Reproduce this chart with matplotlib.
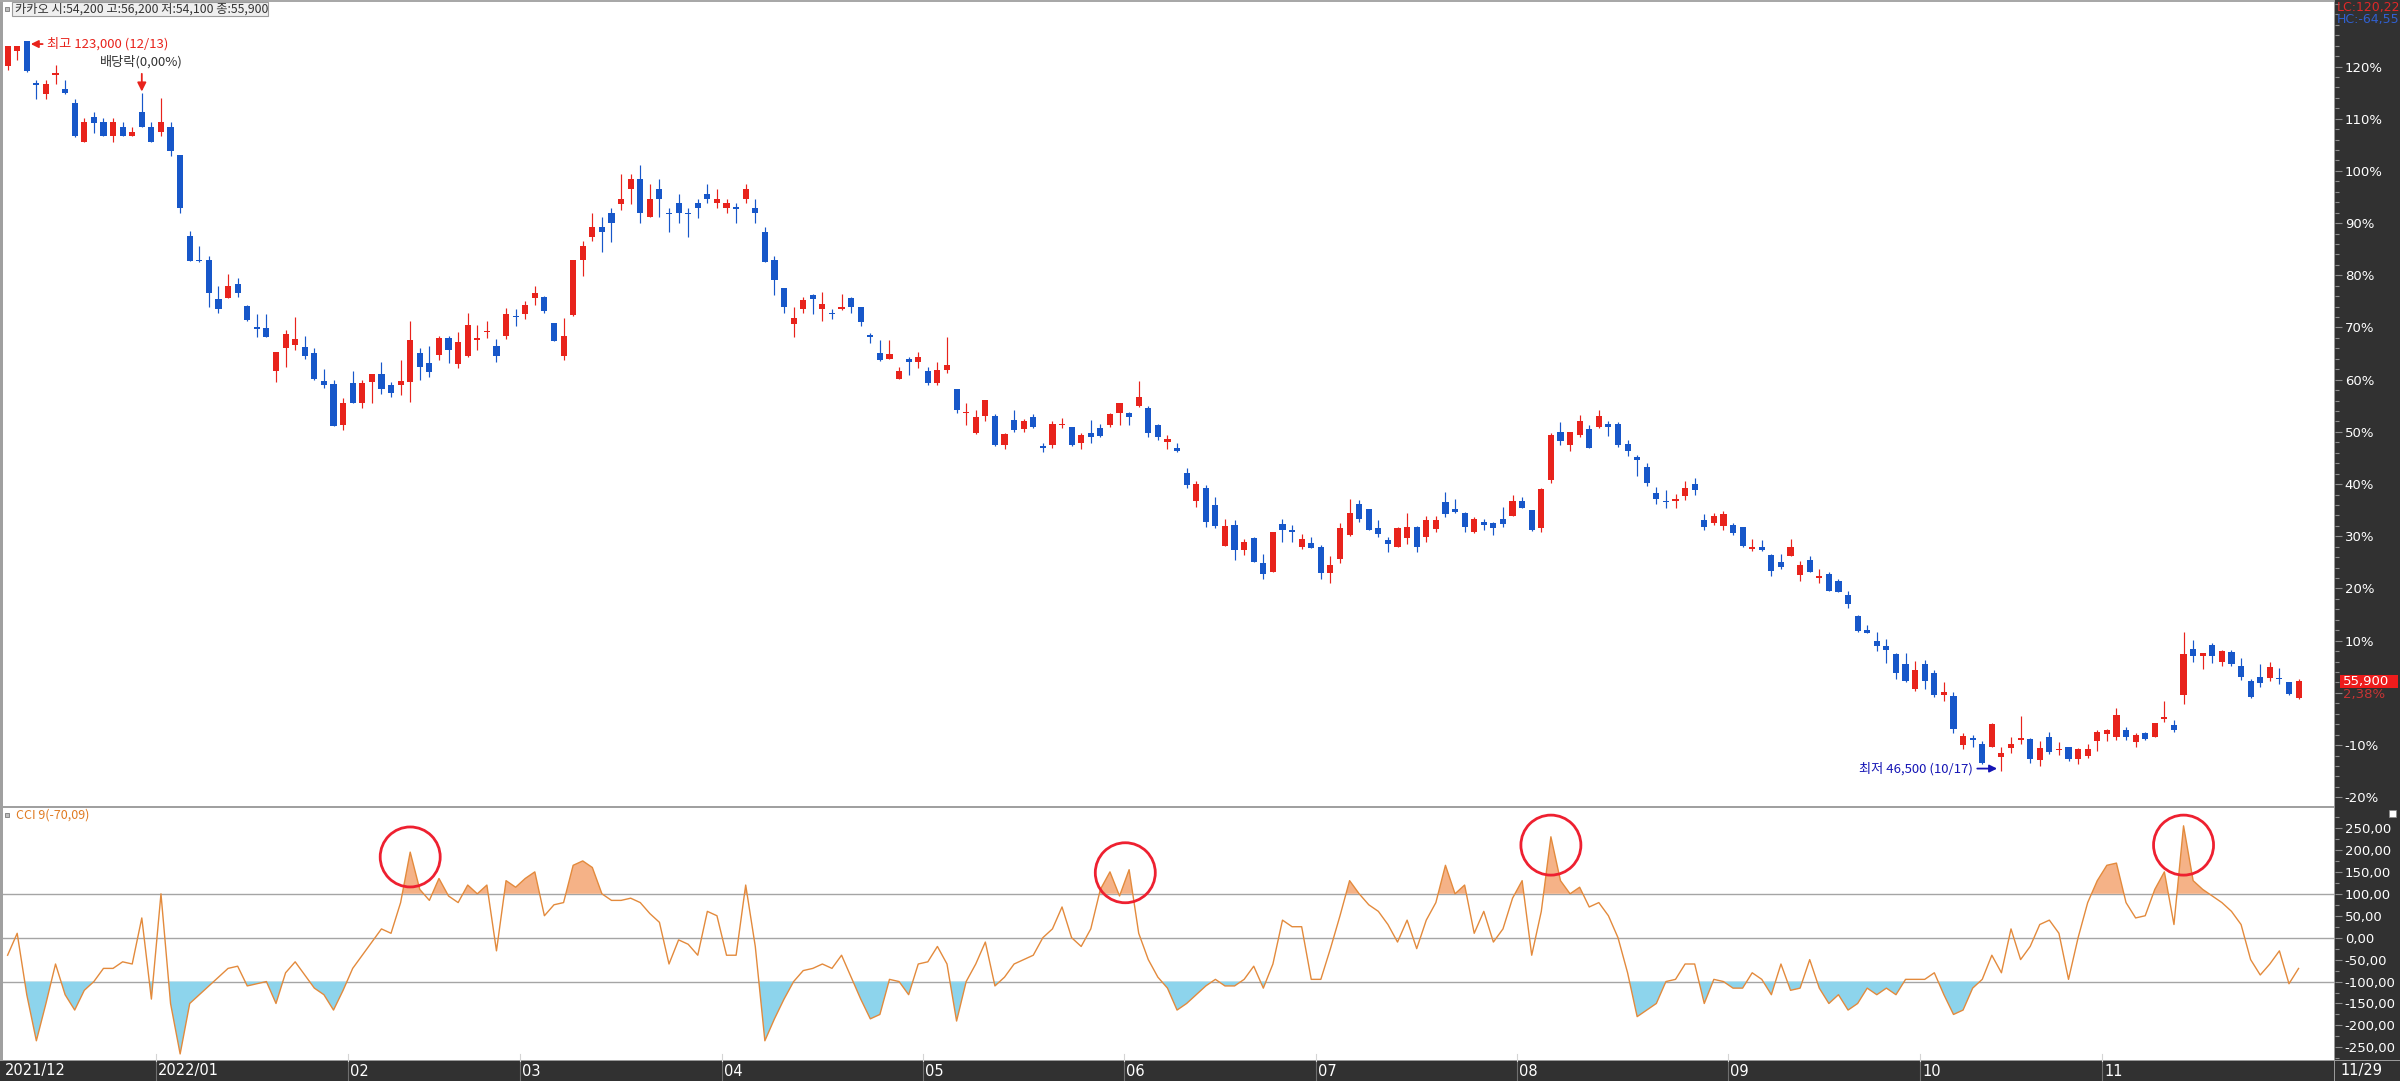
import numpy as np
import matplotlib
matplotlib.use("Agg")
import matplotlib.pyplot as plt
from matplotlib.patches import Rectangle, Ellipse
from matplotlib.ticker import MultipleLocator, FixedLocator
from matplotlib import transforms

# ---------------- data (price in % vs. base 54,700 won, as on the right axis) -------------
opens = [120.1,123.0,124.9,116.8,114.7,118.5,115.7,113.1,105.6,110.3,
 109.3,106.6,108.4,106.6,111.3,108.4,107.4,108.4,103.1,87.6,
 82.9,82.9,75.4,75.6,78.4,74.2,69.9,69.9,61.6,66.1,
 66.6,66.2,65.2,59.7,59.2,51.4,59.4,55.5,59.5,61.0,
 59.0,58.9,59.5,65.2,63.2,64.8,68.0,63.1,64.6,67.7,
 69.1,66.5,68.3,72.2,72.5,75.6,75.8,70.8,64.5,72.4,
 82.9,87.4,89.2,92.0,93.7,96.5,98.4,91.1,96.5,91.9,
 93.8,91.9,93.8,95.6,93.8,92.8,92.9,94.7,92.8,88.2,
 82.9,77.5,70.7,73.6,76.2,73.6,72.7,73.6,75.6,73.9,
 68.6,65.2,64.0,60.1,64.0,63.3,61.7,59.4,61.9,58.2,
 53.6,49.7,53.0,53.0,47.5,52.3,50.5,52.9,47.2,47.5,
 51.3,50.9,47.9,49.7,50.7,51.4,53.7,53.6,55.0,54.5,
 51.3,48.1,47.0,42.2,36.8,39.2,36.0,28.2,32.1,27.3,
 29.7,24.8,23.2,32.3,31.1,28.0,28.7,27.9,23.0,25.6,
 30.3,36.2,35.2,31.5,29.2,28.0,29.7,31.7,29.9,31.4,
 36.6,35.2,34.5,30.9,32.8,32.6,33.4,33.8,36.8,35.0,
 31.5,40.7,49.9,47.4,49.4,50.5,51.0,51.6,51.6,47.6,
 45.2,43.2,38.2,36.7,36.9,37.7,40.1,33.1,32.5,32.0,
 32.2,31.8,27.7,27.9,26.4,25.1,26.2,22.5,25.5,22.1,
 22.8,21.4,18.8,14.8,12.1,9.9,8.9,7.5,5.5,0.7,
 5.5,3.8,-0.4,-0.6,-10.0,-8.8,-9.7,-10.3,-12.2,-10.6,
 -8.9,-8.9,-12.9,-8.5,-10.9,-10.4,-12.7,-12.0,-9.3,-7.9,
 -8.4,-7.1,-9.5,-7.7,-8.4,-4.9,-6.1,-0.4,8.4,7.1,
 9.2,6.0,7.8,5.2,2.3,3.0,2.8,2.8,2.1,-0.9]

highs = [124.0,124.0,124.9,117.5,117.5,120.3,117.5,113.8,110.2,111.2,
 110.2,110.2,109.3,108.4,115.0,109.3,114.0,109.3,103.1,88.4,
 85.6,83.7,77.9,80.3,79.5,74.3,72.6,72.6,65.4,69.6,
 72.1,68.4,66.1,62.0,60.0,56.5,61.6,59.9,61.0,63.3,
 59.5,63.7,71.3,66.1,66.5,68.4,68.4,69.1,72.7,70.5,
 71.3,67.8,73.7,73.5,75.1,77.9,76.1,70.9,71.8,82.9,
 86.6,92.0,91.2,92.8,99.4,99.4,101.1,97.5,98.4,92.8,
 95.6,92.8,94.7,97.5,96.5,94.7,93.8,97.5,94.7,89.2,
 83.7,77.5,73.9,75.8,76.4,76.8,73.5,76.4,75.9,74.0,
 69.0,67.6,67.6,62.5,64.3,65.4,62.5,63.3,68.1,58.3,
 55.5,54.2,56.1,53.5,49.8,54.2,52.4,53.5,47.9,52.1,
 52.6,51.0,49.8,52.3,51.6,53.6,55.6,53.9,59.8,55.0,
 51.5,49.4,47.9,43.0,40.5,39.8,37.5,33.4,33.2,29.4,
 29.9,26.7,30.8,33.3,32.1,30.4,29.9,28.3,26.2,32.5,
 37.1,36.9,35.2,33.1,29.8,31.8,34.4,32.0,33.9,33.9,
 38.4,37.1,34.7,33.6,33.4,32.8,35.7,37.9,37.6,35.0,
 39.2,49.7,51.8,50.0,53.2,51.4,54.2,52.1,51.9,48.4,
 45.6,44.0,39.5,38.8,38.1,40.5,41.1,34.3,34.5,34.9,
 32.6,31.8,29.5,29.2,26.6,26.6,29.4,25.3,26.2,23.7,
 23.1,21.8,19.5,14.9,13.0,11.6,10.3,7.6,7.7,6.1,
 6.3,4.3,2.0,0.2,-7.7,-8.1,-9.3,-5.8,-10.3,-8.4,
 -4.4,-8.7,-9.3,-7.4,-9.5,-10.3,-10.6,-9.7,-7.2,-7.0,
 -2.9,-6.5,-7.7,-7.4,-5.7,-1.5,-5.2,11.6,10.1,7.7,
 9.6,8.2,8.2,6.6,2.6,5.5,6.0,4.7,2.1,2.7]

lows = [119.3,121.2,119.0,113.8,113.8,116.7,114.8,106.4,105.6,107.3,
 106.6,105.6,106.6,106.6,108.4,105.6,106.6,102.9,91.9,82.8,
 82.6,74.0,72.7,75.6,75.8,71.2,68.2,68.2,59.6,62.4,
 65.6,63.9,60.0,58.4,51.1,50.3,55.5,54.6,55.5,57.3,
 56.6,57.1,55.8,59.9,60.6,63.8,63.2,62.2,64.3,65.6,
 68.0,63.3,67.8,70.3,71.6,74.3,72.8,67.5,63.8,72.2,
 79.8,86.5,84.5,86.4,92.6,93.7,90.1,91.1,91.1,88.2,
 90.1,87.4,90.9,93.8,92.8,91.9,90.1,93.8,90.1,82.6,
 76.2,72.8,68.2,72.7,72.6,71.3,71.7,73.3,72.7,70.2,
 67.1,63.6,63.9,60.1,60.9,62.2,59.0,59.0,61.3,53.6,
 51.3,49.6,52.1,47.3,46.7,50.0,50.0,50.7,46.2,47.0,
 50.7,47.3,46.8,47.9,49.0,51.0,51.3,51.3,54.8,49.1,
 48.4,46.7,46.2,39.2,35.6,31.7,31.5,28.2,25.5,26.4,
 25.1,21.9,23.2,29.0,29.0,27.5,27.7,21.8,21.0,24.8,
 30.1,32.8,31.3,29.9,26.9,28.0,28.6,26.9,29.0,30.9,
 33.6,34.4,30.9,30.6,31.2,30.2,31.7,33.8,35.4,31.0,
 30.8,40.3,47.5,46.4,49.1,46.9,50.7,49.2,47.2,45.4,
 41.6,39.6,36.2,35.4,35.4,36.9,37.9,31.2,32.2,31.2,
 30.2,27.9,27.1,27.1,22.4,23.7,26.2,21.4,23.2,21.1,
 19.6,19.4,16.2,11.7,11.4,8.1,5.7,2.6,2.0,0.4,
 0.7,-0.7,-1.5,-7.7,-10.8,-10.3,-13.6,-10.3,-15.0,-11.6,
 -9.7,-13.5,-14.0,-11.7,-11.9,-13.0,-13.7,-12.5,-11.1,-9.3,
 -9.0,-9.0,-10.4,-9.1,-8.5,-5.5,-7.4,-2.1,6.0,4.5,
 5.7,5.2,5.2,2.5,-1.0,1.2,2.3,1.7,-0.4,-1.1]

closes = [123.9,123.9,119.2,116.6,116.7,118.6,114.9,106.6,109.3,109.2,
 106.6,109.3,106.6,107.4,108.4,105.6,109.3,103.8,92.9,82.8,
 82.8,76.6,73.6,77.9,76.7,71.5,69.8,68.2,65.4,68.8,
 67.8,64.6,60.1,59.0,51.1,55.5,55.5,59.4,61.0,58.2,
 57.4,59.7,67.7,62.4,61.4,68.0,65.6,67.3,70.5,67.9,
 69.4,64.5,72.6,72.0,74.3,76.6,73.1,67.5,68.4,82.9,
 85.6,89.2,88.2,90.1,94.7,98.4,91.9,94.7,94.7,91.8,
 91.9,91.8,92.8,94.7,94.7,93.8,92.8,96.5,91.9,82.6,
 79.1,73.9,71.9,75.3,75.5,74.5,72.6,74.0,73.9,71.1,
 68.1,63.8,64.9,61.7,63.3,64.3,59.4,61.9,62.8,54.1,
 53.8,52.9,56.1,47.5,49.6,50.4,52.0,51.0,47.1,51.6,
 51.5,47.4,49.4,49.0,49.3,53.4,55.5,52.9,56.6,49.7,
 49.0,48.7,46.4,39.8,40.0,32.8,32.0,32.0,27.3,28.9,
 25.1,22.7,30.8,31.2,31.0,29.5,27.7,23.0,24.5,31.5,
 34.4,33.4,31.3,30.4,28.5,31.5,31.7,28.0,33.1,33.1,
 34.2,34.7,31.7,33.4,32.2,31.5,32.3,36.8,35.4,31.3,
 39.0,49.4,48.3,49.9,52.1,46.9,53.0,50.9,47.5,46.4,
 44.7,40.2,37.1,36.6,37.0,39.2,38.9,31.8,33.9,34.3,
 30.6,28.1,27.9,27.4,23.4,24.2,27.9,24.5,23.2,22.4,
 19.6,19.4,17.0,11.9,11.5,9.0,8.2,3.9,2.2,4.4,
 2.3,-0.4,0.2,-7.0,-8.3,-8.9,-13.5,-5.9,-11.6,-9.7,
 -8.8,-12.7,-10.6,-11.4,-10.8,-12.7,-10.8,-10.8,-7.4,-7.2,
 -4.2,-8.4,-8.1,-8.9,-5.8,-4.7,-7.2,7.5,7.0,7.6,
 7.1,8.1,5.5,3.0,-0.7,1.8,4.9,2.7,-0.3,2.2]

cci_values = [-40,10,-130,-235,-150,-60,-130,-165,-120,-100,
 -70,-70,-55,-60,45,-140,100,-150,-265,-150,
 -130,-110,-90,-70,-65,-110,-105,-100,-150,-80,
 -55,-85,-115,-130,-165,-120,-70,-40,-10,20,
 10,80,195,110,85,135,95,80,120,100,
 120,-30,130,115,135,150,50,75,80,165,
 175,160,100,85,85,90,80,55,35,-60,
 -5,-15,-40,60,50,-40,-40,120,-20,-235,
 -185,-140,-100,-75,-70,-60,-70,-40,-90,-140,
 -185,-175,-95,-100,-130,-60,-55,-20,-60,-190,
 -100,-60,-10,-110,-90,-60,-50,-40,0,20,
 70,0,-20,20,110,150,95,155,10,-50,
 -90,-115,-165,-150,-130,-110,-95,-110,-110,-95,
 -65,-115,-60,40,25,25,-95,-95,-25,50,
 130,100,75,60,30,-10,40,-25,40,80,
 165,100,120,10,60,-10,20,90,130,-40,
 60,230,130,100,115,70,80,50,0,-80,
 -180,-165,-150,-100,-95,-60,-60,-150,-95,-100,
 -115,-115,-80,-95,-130,-60,-120,-115,-50,-115,
 -150,-130,-165,-150,-115,-130,-115,-130,-95,-95,
 -95,-80,-130,-175,-165,-115,-95,-40,-80,20,
 -50,-20,30,40,10,-95,0,80,130,165,
 170,80,45,50,110,150,30,255,130,110,
 95,80,60,30,-50,-85,-60,-30,-105,-70.09]

month_labels = ["2021/12", "2022/01", "02", "03", "04", "05", "06",
                "07", "08", "09", "10", "11"]
month_first_bar = [0, 16, 36, 54, 75, 96, 117, 137, 158, 180, 200, 219]
end_date_label = "11/29"

header_text = "카카오 시:54,200 고:56,200 저:54,100 종:55,900"
high_note = "최고 123,000 (12/13)"
high_bar = 2
div_note = "배당락(0,00%)"
div_bar = 14
low_note = "최저 46,500 (10/17)"
low_bar = 208
cci_title = "CCI 9(-70,09)"
last_price_text = "55,900"
last_change_text = "2,38%"
lc_text = "LC:120,22"
hc_text = "HC:-64,55"
circled_bars = [42, 116.6, 161, 227]
circled_levels = [184, 148, 211, 211]

# ---------------- styling -------------
W, H, DPI = 2400, 1081, 100
RED = "#E8231C"
BLUE = "#1757C9"
DARK = "#313131"
GRID = "#a5a5a5"
NARROW = ["Liberation Sans Narrow", "DejaVu Sans"]
KR = ["Noto Sans CJK KR", "DejaVu Sans"]
plt.rcParams["font.family"] = NARROW

fig = plt.figure(figsize=(W / DPI, H / DPI), dpi=DPI, facecolor="white")


def box(x0, y0, x1, y1):
    return [x0 / W, 1 - y1 / H, (x1 - x0) / W, (y1 - y0) / H]


ax = fig.add_axes(box(3, 0, 2335, 806))
axc = fig.add_axes(box(3, 808, 2335, 1061), sharex=ax)

# dark axis strips
fig.add_artist(Rectangle((2335 / W, 0), 65 / W, 1, transform=fig.transFigure,
                         fc=DARK, ec="none", zorder=-5))
fig.add_artist(Rectangle((0, 0), 1, 20 / H, transform=fig.transFigure,
                         fc=DARK, ec="none", zorder=-5))
# borders
fig.add_artist(Rectangle((0, 20 / H), 2.5 / W, 1 - 20 / H, transform=fig.transFigure,
                         fc="#a0a0a0", ec="none", zorder=6))
fig.add_artist(Rectangle((0, 1 - 1.5 / H), 2335 / W, 1.5 / H, transform=fig.transFigure,
                         fc="#a8a8a8", ec="none", zorder=6))
fig.add_artist(Rectangle((0, 1 - 807.5 / H), 2335 / W, 1.6 / H, transform=fig.transFigure,
                         fc="#a0a0a0", ec="none", zorder=6))
fig.add_artist(Rectangle((2334 / W, 0), 1.2 / W, 1, transform=fig.transFigure,
                         fc="#9a9a9a", ec="none", zorder=6))
fig.add_artist(Rectangle((0, 20 / H), 1, 1.2 / H, transform=fig.transFigure,
                         fc="#9a9a9a", ec="none", zorder=6))

n = len(closes)
x = np.arange(n)
o = np.array(opens)
h = np.array(highs)
l = np.array(lows)
c = np.array(closes)
up = c >= o
cols = np.where(up, RED, BLUE)

ax.vlines(x, l, h, colors=cols, linewidth=0.85, zorder=3)
body = np.abs(c - o)
bh = np.maximum(body, 0.3)
bb = np.minimum(o, c) - (bh - body) / 2
ax.bar(x, bh, bottom=bb, width=0.64, color=cols, linewidth=0, zorder=4)

ax.set_xlim(-0.48, 242.8)
ax.set_ylim(-21.67, 132.74)
for a in (ax, axc):
    for s in a.spines.values():
        s.set_visible(False)
    a.tick_params(axis="x", bottom=False, labelbottom=False)
    a.set_facecolor("white")

ax.yaxis.tick_right()
ax.set_yticks(np.arange(-20, 130, 10))
ax.set_yticklabels(["" if v == 0 else f"{v}%" for v in range(-20, 130, 10)])
ax.yaxis.set_minor_locator(MultipleLocator(2))
ax.tick_params(axis="y", which="major", length=5, width=0.8, color="#8c8c8c",
               labelcolor="white", labelsize=9.5, pad=2)
ax.tick_params(axis="y", which="minor", length=3, width=0.8, color="#8c8c8c")

# annotations on price panel
ax.annotate(high_note, xy=(high_bar + 0.42, highs[high_bar] - 0.6), xycoords="data",
            xytext=(16, 0), textcoords="offset pixels", ha="left", va="center",
            fontsize=9.5, color=RED, family=KR,
            arrowprops=dict(arrowstyle="-|>", color=RED, lw=1.3, mutation_scale=11,
                            shrinkA=1, shrinkB=0), zorder=6)
ax.annotate(div_note, xy=(div_bar, highs[div_bar] + 0.2), xycoords="data",
            xytext=(0, 30), textcoords="offset pixels", ha="center", va="center",
            fontsize=9.5, color="#333333", family=KR,
            arrowprops=dict(arrowstyle="-|>", color=RED, lw=1.3, mutation_scale=13,
                            shrinkA=2, shrinkB=0), zorder=6)
ax.annotate(low_note, xy=(low_bar - 0.45, lows[low_bar] + 0.5), xycoords="data",
            xytext=(-24, 0), textcoords="offset pixels", ha="right", va="center",
            fontsize=9.5, color="#1515B5", family=KR,
            arrowprops=dict(arrowstyle="-|>", color="#1515B5", lw=1.3, mutation_scale=11,
                            shrinkA=1, shrinkB=0), zorder=6)

# header
fig.add_artist(Rectangle((12 / W, 1 - 16 / H), 256 / W, 14 / H, transform=fig.transFigure,
                         fc="#efefef", ec="#9c9c9c", lw=0.8, zorder=7))
fig.add_artist(Rectangle((5 / W, 1 - 11 / H), 4 / W, 4 / H, transform=fig.transFigure,
                         fc="#bdbdbd", ec="#7a7a7a", lw=0.6, zorder=7))
fig.text(15 / W, 1 - 9 / H, header_text, fontsize=8.8, color="#333333", family=KR,
         ha="left", va="center", zorder=8)

# right strip texts
fig.text(2337 / W, 1 - 7 / H, lc_text, fontsize=9, color="#E02828", ha="left", va="center")
fig.text(2337 / W, 1 - 20 / H, hc_text, fontsize=9, color="#3060D0", ha="left", va="center")
tr = transforms.blended_transform_factory(fig.transFigure, ax.transData)
fig.add_artist(Rectangle((2340 / W, closes[-1] - 1.3), 58 / W, 2.6, transform=tr,
                         fc="#EE1C1C", ec="none", zorder=7))
fig.text(2343 / W, closes[-1], last_price_text, transform=tr, fontsize=9.5, color="white",
         ha="left", va="center", zorder=8)
fig.text(2343 / W, closes[-1] - 2.45, last_change_text, transform=tr, fontsize=9.5,
         color="#C83434", ha="left", va="center", zorder=8)

# ---------------- CCI panel -------------
cv = np.array(cci_values, dtype=float)
axc.set_ylim(-281.1, 295.6)
for lvl in (100, 0, -100):
    axc.axhline(lvl, color=GRID, lw=1.0, zorder=1)
axc.fill_between(x, cv, 100, where=cv > 100, interpolate=True, color="#F5B287",
                 lw=0, zorder=2)
axc.fill_between(x, cv, -100, where=cv < -100, interpolate=True, color="#8DD4EC",
                 lw=0, zorder=2)
axc.plot(x, cv, color="#E38A3C", lw=1.0, zorder=3)

for cx, cy in zip(circled_bars, circled_levels):
    axc.add_patch(Ellipse((cx, cy), width=2 * 30 / 9.586, height=2 * 30 / 0.4387,
                          fill=False, ec="#EE2030", lw=2.0, zorder=5, clip_on=False))

axc.yaxis.tick_right()
cticks = np.arange(-250, 300, 50)
axc.yaxis.set_major_locator(FixedLocator(cticks))
axc.set_yticklabels([f"{v:.2f}".replace(".", ",") for v in cticks])
axc.yaxis.set_minor_locator(MultipleLocator(25))
axc.tick_params(axis="y", which="major", length=5, width=0.8, color="#8c8c8c",
                labelcolor="white", labelsize=9.5, pad=2)
axc.tick_params(axis="y", which="minor", length=3, width=0.8, color="#8c8c8c")

fig.add_artist(Rectangle((5 / W, 1 - 817 / H), 4 / W, 4 / H, transform=fig.transFigure,
                         fc="#bdbdbd", ec="#7a7a7a", lw=0.6, zorder=7))
fig.text(16 / W, 1 - 815 / H, cci_title, fontsize=9, color="#E07B22", family=KR,
         ha="left", va="center", zorder=8)
fig.add_artist(Rectangle((2389 / W, 1 - 817 / H), 7 / W, 7 / H, transform=fig.transFigure,
                         fc="white", ec="#888888", lw=0.5, zorder=7))

# ---------------- month axis -------------
tb = transforms.blended_transform_factory(axc.transData, fig.transFigure)
for lab, b in zip(month_labels, month_first_bar):
    xb = b - 0.5 if b > 0 else -0.48
    if b > 0:
        fig.add_artist(plt.Line2D([xb, xb], [0, 20 / H], transform=tb, color="#6f6f6f",
                                  lw=0.8, zorder=6))
        fig.add_artist(plt.Line2D([xb, xb], [20 / H, 27 / H], transform=tb, color="#d4d4d4",
                                  lw=0.8, zorder=6))
    axc.annotate(lab, xy=(xb, 10 / H), xycoords=tb, xytext=(2, 0),
                 textcoords="offset pixels", ha="left", va="center", fontsize=10.5,
                 color="white", annotation_clip=False)
fig.text(2340 / W, 10 / H, end_date_label, fontsize=10.5, color="white", ha="left", va="center")

fig.savefig("out.png", dpi=DPI, facecolor="white")
